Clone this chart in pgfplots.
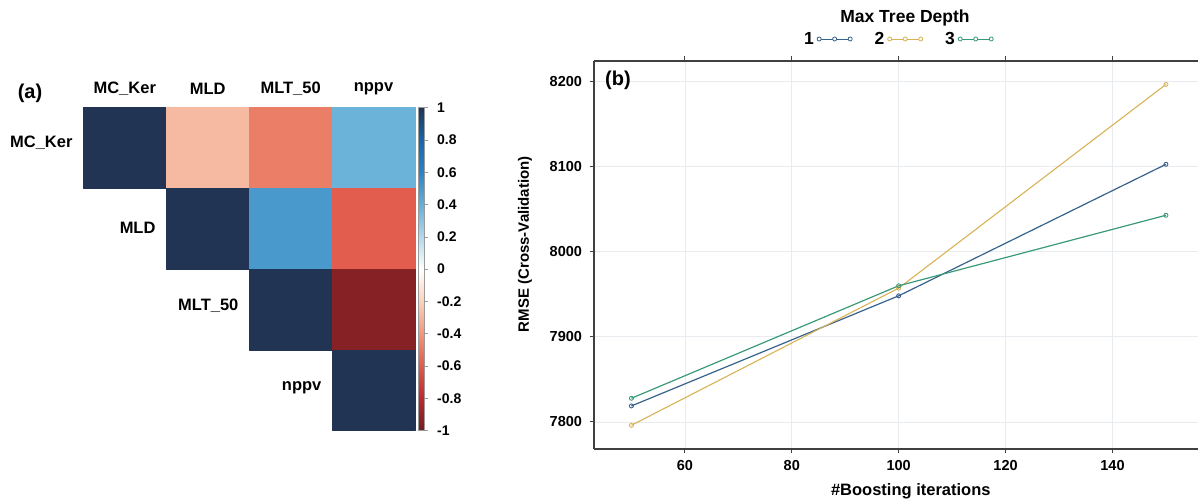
\documentclass[border=0pt]{standalone}
\usepackage{fontspec}
\setmainfont{Liberation Sans}
\usepackage{pgfplots}
\pgfplotsset{compat=1.18}
\usepgfplotslibrary{patchplots}
\definecolor{dblue}{RGB}{55,98,140}
\definecolor{dgold}{RGB}{217,178,86}
\definecolor{dgreen}{RGB}{58,154,120}
\definecolor{gridc}{RGB}{232,235,240}
\newcommand{\fs}[1]{\bfseries\fontsize{#1}{#1}\selectfont}
\begin{document}
\begin{tikzpicture}
\useasboundingbox (0,0) rectangle (1198pt,502pt);
% ---------------- (a) correlation heatmap ----------------
\begin{axis}[
  at={(83.3pt,71.5pt)}, anchor=south west, scale only axis,
  width=331.7pt, height=322.8pt,
  xmin=0, xmax=4, ymin=0, ymax=4, y dir=reverse,
  hide axis, clip=false,
  colormap={rdbu}{rgb255(0cm)=(110,30,35); rgb255(1cm)=(190,40,45); rgb255(2cm)=(225,90,75); rgb255(3cm)=(240,150,120); rgb255(4cm)=(250,210,190); rgb255(5cm)=(255,255,255); rgb255(6cm)=(180,215,235); rgb255(7cm)=(100,175,215); rgb255(8cm)=(45,130,195); rgb255(9cm)=(25,100,170); rgb255(10cm)=(34,52,84)},
  point meta min=-1, point meta max=1,
  colorbar,
  colorbar style={
    at={(1.011,1)}, anchor=north west,
    width=6pt,
    ytick={-1,-0.8,-0.6,-0.4,-0.2,0,0.2,0.4,0.6,0.8,1},
    yticklabels={-1,-0.8,-0.6,-0.4,-0.2,0,0.2,0.4,0.6,0.8,1},
    ytick pos=right, yticklabel pos=right,
    yticklabel style={font=\fs{14}, xshift=6pt},
    axis line style={draw=gray!80, line width=0.5pt},
    major tick length=3pt,
    tick style={draw=gray!80, line width=0.5pt},
    tick align=outside,
  },
]
\addplot[patch, patch type=rectangle, shader=flat, point meta=explicit]
table[meta=v] {
x y v
0 0 1
1 0 1
1 1 1
0 1 1
1 0 -0.28
2 0 -0.28
2 1 -0.28
1 1 -0.28
2 0 -0.48
3 0 -0.48
3 1 -0.48
2 1 -0.48
3 0 0.38
4 0 0.38
4 1 0.38
3 1 0.38
1 1 1
2 1 1
2 2 1
1 2 1
2 1 0.5
3 1 0.5
3 2 0.5
2 2 0.5
3 1 -0.59
4 1 -0.59
4 2 -0.59
3 2 -0.59
2 2 1
3 2 1
3 3 1
2 3 1
3 2 -0.94
4 2 -0.94
4 3 -0.94
3 3 -0.94
3 3 1
4 3 1
4 4 1
3 4 1
};
\node[font=\fs{16.5}] at (axis cs:0.5,-0.232) {MC\_Ker};
\node[font=\fs{16.5}] at (axis cs:1.5,-0.232) {MLD};
\node[font=\fs{16.5}] at (axis cs:2.5,-0.232) {MLT\_50};
\node[font=\fs{16.5}] at (axis cs:3.5,-0.232) {nppv};
\node[font=\fs{16.5}, anchor=east, inner sep=0pt] at (axis cs:-0.128,0.44) {MC\_Ker};
\node[font=\fs{16.5}, anchor=east, inner sep=0pt] at (axis cs:0.873,1.49) {MLD};
\node[font=\fs{16.5}, anchor=east, inner sep=0pt] at (axis cs:1.873,2.45) {MLT\_50};
\node[font=\fs{16.5}, anchor=east, inner sep=0pt] at (axis cs:2.873,3.47) {nppv};
\end{axis}
\node[font=\fs{20}] at (30pt,409pt) {(a)};
% ---------------- (b) RMSE vs boosting iterations ----------------
\begin{axis}[
  at={(594pt,53pt)}, anchor=south west, scale only axis,
  width=604pt, height=388pt,
  xmin=43, xmax=156, ymin=7768.3, ymax=8223.5,
  axis x line*=box, axis y line*=left,
  axis line style={draw=black!75, line width=1.2pt},
  xtick={60,80,100,120,140}, ytick={7800,7900,8000,8100,8200},
  tick align=outside, major tick length=4.5pt,
  tick style={draw=black!75, line width=1pt},
  grid=major, grid style={draw=gridc, line width=0.6pt},
  /pgf/number format/assume math mode=true,
  /pgf/number format/1000 sep={},
  ticklabel style={font=\fs{14.5}},
  yticklabel style={xshift=-4pt},
  xticklabel style={yshift=-3pt},
  xlabel={\#Boosting iterations}, ylabel={RMSE (Cross-Validation)},
  every axis x label/.style={at={(axis description cs:0.5245,-0.110)}, anchor=center, font=\fs{16.5}},
  every axis y label/.style={at={(axis description cs:-0.1142,0.528)}, anchor=center, rotate=90, font=\fs{15}},
  legend columns=3, legend plot pos=right,
  legend style={at={(axis description cs:0.503,1.0567)}, anchor=center, draw=none, fill=none, font=\fs{17.5}, column sep=1pt, /tikz/every even column/.append style={column sep=20pt}},
  legend image code/.code={
    \draw[#1, mark=none, line width=0.9pt] (0pt,0pt) -- (31pt,0pt);
    \draw[#1, mark=none, line width=0.8pt, fill=white] (0pt,0pt) circle (2pt) (15.5pt,0pt) circle (2pt) (31pt,0pt) circle (2pt);
  },
]
\addplot[dblue, line width=1.2pt, mark=o, mark size=2pt, mark options={solid, line width=0.9pt}] coordinates {(50,7818.8) (100,7948) (150,8102.3)};
\addlegendentry{1}
\addplot[dgold, line width=1.1pt, mark=o, mark size=2pt, mark options={solid, line width=0.9pt}] coordinates {(50,7796.1) (100,7957) (150,8196)};
\addlegendentry{2}
\addplot[dgreen, line width=1.2pt, mark=o, mark size=2pt, mark options={solid, line width=0.9pt}] coordinates {(50,7827.8) (100,7959.8) (150,8042.5)};
\addlegendentry{3}
\end{axis}
\node[font=\fs{17.5}] at (905pt,484pt) {Max Tree Depth};
\node[font=\fs{20}] at (618pt,422pt) {(b)};
\end{tikzpicture}
\end{document}
